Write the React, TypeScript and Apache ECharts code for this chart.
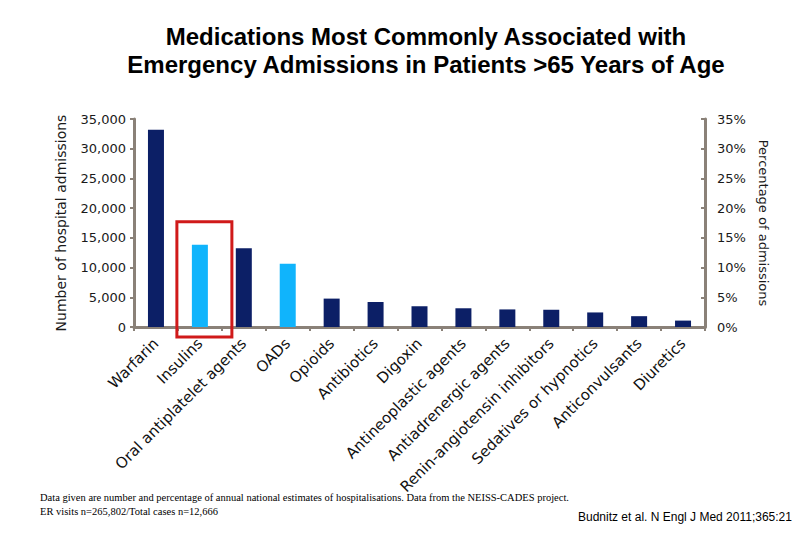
import React, { useEffect, useRef } from "react";
import * as echarts from "echarts";

const categories = [
  "Warfarin",
  "Insulins",
  "Oral antiplatelet agents",
  "OADs",
  "Opioids",
  "Antibiotics",
  "Digoxin",
  "Antineoplastic agents",
  "Antiadrenergic agents",
  "Renin-angiotensin inhibitors",
  "Sedatives or hypnotics",
  "Anticonvulsants",
  "Diuretics",
];
const admissions = [33171, 13854, 13263, 10656, 4778, 4205, 3491, 3151, 2958, 2902, 2450, 1820, 1077];
const highlighted = ["Insulins", "OADs"];
const leftTicks = { min: 0, max: 35000, interval: 5000 };
const rightTicks = { min: 0, max: 35, interval: 5 };
const boxedCategory = "Insulins";
const boxTopValue = 17700;

const NAVY = "#0c1f66";
const LIGHT = "#10b4fc";
const AXIS = "#8a8178";

export default function App() {
  const ref = useRef<HTMLDivElement>(null);
  useEffect(() => {
    document.body.style.margin = "0";
    const chart = echarts.init(ref.current!, null, { renderer: "svg" });
    chart.setOption({
      animation: false,
      backgroundColor: "#ffffff",
      title: {
        text: "Medications Most Commonly Associated with\nEmergency Admissions in Patients >65 Years of Age",
        left: 421,
        top: 17,
        textAlign: "center",
        textStyle: {
          fontFamily: "Liberation Sans, Arial, sans-serif",
          fontWeight: "bold",
          fontSize: 24,
          lineHeight: 28,
          color: "#000",
        },
      },
      grid: { left: 134, right: 105, top: 119, bottom: 213 },
      xAxis: {
        type: "category",
        data: categories,
        axisLine: { lineStyle: { color: AXIS, width: 3 } },
        axisTick: { show: true, length: 4, lineStyle: { color: AXIS, width: 2 } },
        axisLabel: {
          interval: 0,
          rotate: 45,
          margin: 14,
          fontFamily: "DejaVu Sans, Verdana, sans-serif",
          fontSize: 15,
          color: "#111111",
        },
      },
      yAxis: [
        {
          type: "value",
          ...leftTicks,
          name: "Number of hospital admissions",
          nameLocation: "middle",
          nameGap: 66,
          nameTextStyle: {
            fontFamily: "DejaVu Sans, Verdana, sans-serif",
            fontSize: 14,
            color: "#1a1a1a",
          },
          axisLine: { show: true, lineStyle: { color: AXIS, width: 3 } },
          axisTick: { show: true, length: 4, lineStyle: { color: AXIS, width: 2 } },
          splitLine: { show: false },
          axisLabel: {
            margin: 8,
            fontFamily: "DejaVu Sans, Verdana, sans-serif",
            fontSize: 13,
            color: "#1a1a1a",
            formatter: (v: number) => v.toLocaleString("en-US"),
          },
        },
        {
          type: "value",
          ...rightTicks,
          position: "right",
          name: "Percentage of admissions",
          nameLocation: "middle",
          nameRotate: -90,
          nameGap: 46,
          nameTextStyle: {
            fontFamily: "DejaVu Sans, Verdana, sans-serif",
            fontSize: 13,
            color: "#1a1a1a",
          },
          axisLine: { show: true, lineStyle: { color: AXIS, width: 3 } },
          axisTick: { show: true, inside: true, length: 4, lineStyle: { color: AXIS, width: 2 } },
          splitLine: { show: false },
          axisLabel: {
            margin: 12,
            fontFamily: "DejaVu Sans, Verdana, sans-serif",
            fontSize: 13,
            color: "#1a1a1a",
            formatter: "{value}%",
          },
        },
      ],
      series: [
        {
          type: "bar",
          barWidth: 16,
          data: admissions.map((v, i) => ({
            value: v,
            itemStyle: { color: highlighted.includes(categories[i]) ? LIGHT : NAVY },
          })),
        },
      ],
    });

    const cx = chart.convertToPixel({ xAxisIndex: 0 }, boxedCategory) as number;
    const ty = chart.convertToPixel({ yAxisIndex: 0 }, boxTopValue) as number;
    const by = chart.convertToPixel({ yAxisIndex: 0 }, 0) as number;
    chart.setOption({
      graphic: [
        {
          type: "rect",
          shape: { x: cx - 23, y: ty, width: 55, height: by - ty + 10 },
          style: { fill: "none", stroke: "#d01a1a", lineWidth: 3 },
          z: 100,
        },
        {
          type: "text",
          left: 40,
          top: 490,
          style: {
            text: "Data given are number and percentage of annual national estimates of hospitalisations. Data from the NEISS-CADES project.\nER visits n=265,802/Total cases n=12,666",
            font: "10.5px 'Liberation Serif', 'Times New Roman', serif",
            lineHeight: 14,
            fill: "#000",
          },
        },
        {
          type: "text",
          left: 578,
          top: 511,
          style: {
            text: "Budnitz et al. N Engl J Med 2011;365:21",
            font: "12px 'Liberation Sans', Arial, sans-serif",
            fill: "#000",
          },
        },
      ],
    });
    return () => chart.dispose();
  }, []);
  return <div ref={ref} style={{ width: 810, height: 540 }} />;
}
